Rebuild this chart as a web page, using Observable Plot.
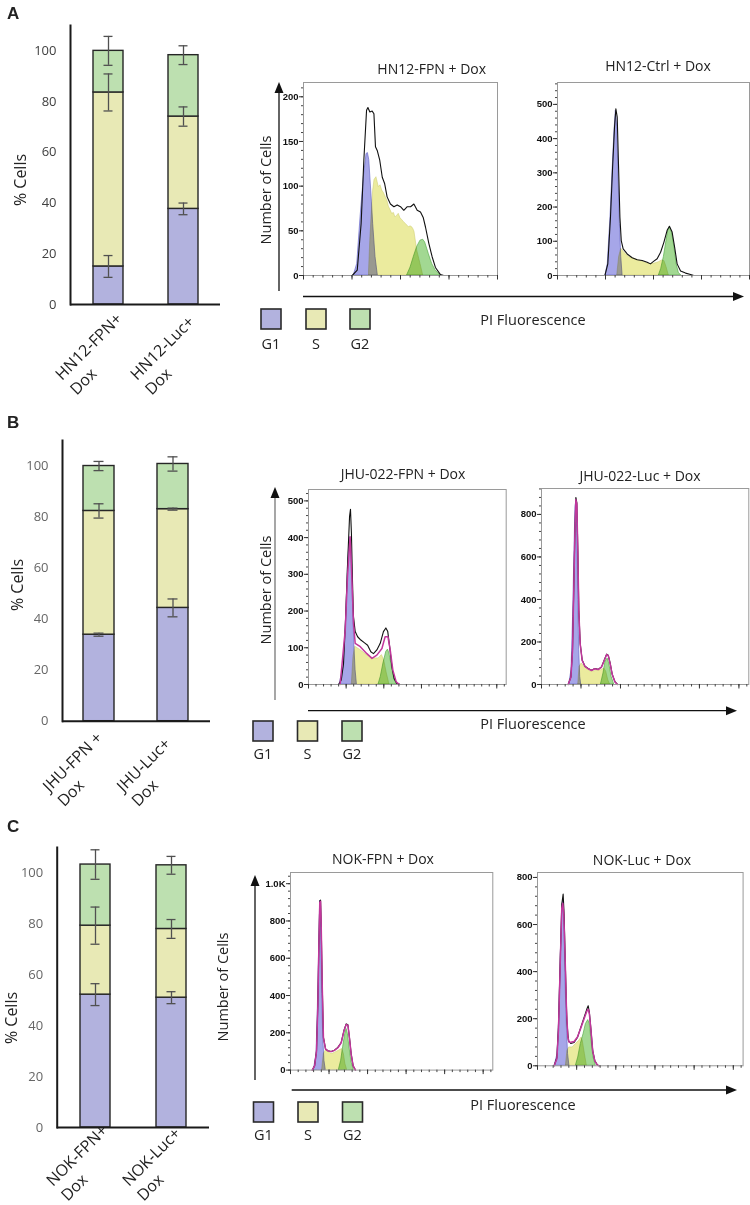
<!DOCTYPE html>
<html>
<head>
<meta charset="utf-8">
<script src="https://cdn.jsdelivr.net/npm/d3@7"></script>
<script src="https://cdn.jsdelivr.net/npm/@observablehq/plot@0.6"></script>
<style>
html,body{margin:0;padding:0;background:#fff;}
#root{position:relative;width:750px;height:1205px;overflow:hidden;background:#fff;}
#root > svg{position:absolute;}
</style>
</head>
<body>
<div id="root"></div>
<script>
// ---------------- DATA ----------------
const phases = ["G1", "S", "G2"];
const barColors = ["#b2b2de", "#e8e9b5", "#bde0b0"];
const histFill = ["#a6a6e8", "#ebeb9e", "#a2d892"];
const histEdge = ["#6c6cc8", "#c9c96a", "#5aae4e"];
const barTicks = [0, 20, 40, 60, 80, 100];

// Panel A bars (% cells per phase)
const catsA = ["HN12-FPN+\nDox", "HN12-Luc+\nDox"];
const g1A = [15.0, 37.7];
const sA = [68.6, 36.4];
const g2A = [16.4, 24.2];
const errG1A = [4.3, 2.3];
const errSA = [7.3, 3.8];
const errG2A = [5.7, 3.7];

// Panel B bars
const catsB = ["JHU-FPN +\nDox", "JHU-Luc+\nDox"];
const g1B = [33.9, 44.4];
const sB = [48.5, 38.7];
const g2B = [17.6, 17.7];
const errG1B = [0.6, 3.5];
const errSB = [2.8, 0.4];
const errG2B = [1.8, 2.8];

// Panel C bars
const catsC = ["NOK-FPN+\nDox", "NOK-Luc+\nDox"];
const g1C = [52.2, 51.0];
const sC = [27.1, 27.0];
const g2C = [24.0, 25.0];
const errG1C = [4.3, 2.35];
const errSC = [7.3, 3.7];
const errG2C = [5.8, 3.5];

// Histograms: [PI channel, number of cells]
const a1Outline = [[251,0],[277,6],[297,58],[311,129],[325,185],[332,188],[342,183],[354,184],[363,181],[371,144],[380,140],[393,129],[406,110],[418,103],[431,88],[448,80],[466,77],[483,79],[500,77],[517,73],[535,77],[552,77],[569,80],[586,73],[603,71],[617,65],[629,54],[646,36],[663,21],[680,9],[706,1],[723,0]];
const a1G1 = [[259,0],[277,13],[294,65],[311,110],[325,136],[332,137],[339,129],[349,95],[359,58],[371,21],[383,0]];
const a1S = [[337,0],[345,43],[359,95],[366,107],[376,110],[388,99],[397,101],[406,95],[415,92],[423,88],[432,84],[440,77],[449,73],[457,69],[466,70],[474,65],[483,67],[491,69],[500,64],[509,62],[517,60],[526,58],[535,56],[543,54],[552,55],[560,54],[566,52],[572,49],[586,28],[603,13],[617,0]];
const a1G2 = [[534,0],[552,9],[569,21],[586,32],[603,39],[617,40],[627,37],[646,24],[663,13],[680,6],[706,0]];

const a2Outline = [[247,0],[262,34],[276,171],[287,317],[297,434],[304,487],[311,463],[318,317],[325,171],[332,102],[342,78],[363,63],[389,52],[415,46],[441,44],[467,39],[484,34],[502,42],[519,49],[537,68],[554,97],[571,132],[583,144],[597,127],[610,83],[623,34],[641,13],[667,7],[693,3],[710,0]];
const a2G1 = [[250,0],[262,34],[276,171],[287,307],[297,424],[304,482],[311,434],[318,288],[325,151],[332,54],[339,0]];
const a2S = [[311,0],[321,54],[332,78],[346,68],[372,54],[398,49],[424,44],[450,39],[476,34],[502,34],[528,39],[545,44],[557,42],[568,24],[580,0]];
const a2G2 = [[528,0],[540,19],[554,54],[568,102],[577,132],[585,141],[597,124],[610,78],[620,34],[632,7],[645,0]];

const b1Outline = [[160,0],[174,12],[186,57],[196,166],[207,321],[218,457],[223,477],[228,411],[234,275],[239,184],[248,144],[261,130],[278,121],[296,114],[314,107],[331,89],[345,84],[363,94],[381,112],[398,144],[411,154],[421,144],[431,103],[443,48],[455,16],[469,3],[487,0]];
const b1Magenta = [[168,0],[195,148],[207,293],[221,402],[230,293],[239,166],[248,112],[275,103],[310,84],[337,71],[363,80],[390,98],[407,130],[422,130],[434,94],[448,39],[466,7],[483,0]];
const b1G1 = [[165,0],[186,48],[200,184],[211,339],[220,401],[229,366],[236,230],[243,112],[250,39],[257,0]];
const b1S = [[230,0],[239,75],[248,103],[275,94],[310,80],[345,71],[372,71],[390,80],[402,66],[416,30],[430,0]];
const b1G2 = [[372,0],[384,21],[398,57],[413,89],[422,95],[430,84],[443,48],[455,16],[469,0]];

const b2Outline = [[135,0],[149,36],[157,162],[164,475],[169,711],[174,880],[179,855],[184,632],[189,350],[196,193],[206,115],[220,86],[236,75],[254,67],[270,75],[287,71],[304,83],[318,115],[330,143],[338,138],[348,99],[358,49],[372,13],[385,0]];
const b2Magenta = [[135,0],[149,34],[157,158],[164,470],[169,705],[174,870],[179,848],[184,625],[189,345],[196,190],[206,113],[220,85],[236,74],[254,66],[270,74],[287,70],[304,82],[318,113],[330,141],[338,136],[348,97],[358,48],[372,12],[385,0]];
const b2G1 = [[140,0],[152,67],[160,318],[167,632],[172,836],[176,860],[181,711],[186,397],[191,162],[196,36],[201,0]];
const b2S = [[186,0],[193,83],[203,99],[225,75],[250,60],[275,63],[301,67],[318,75],[328,60],[338,20],[348,0]];
const b2G2 = [[301,0],[314,52],[324,107],[335,122],[343,99],[355,36],[368,0]];

const c1Outline = [[113,0],[125,23],[135,104],[142,354],[147,658],[152,908],[156,912],[159,800],[165,443],[171,175],[182,113],[194,104],[211,100],[228,107],[246,122],[263,148],[277,211],[289,248],[298,243],[306,175],[315,86],[325,23],[337,0]];
const c1Magenta = [[113,0],[125,22],[135,100],[142,350],[147,650],[152,900],[156,905],[159,795],[165,440],[171,172],[182,112],[194,103],[211,99],[228,106],[246,120],[263,146],[277,208],[289,245],[298,240],[306,172],[315,84],[325,22],[337,0]];
const c1G1 = [[121,0],[135,86],[142,336],[149,658],[154,908],[159,765],[164,407],[170,175],[176,50],[183,0]];
const c1S = [[164,0],[173,86],[182,104],[199,95],[216,86],[234,95],[251,104],[268,113],[277,86],[285,32],[294,0]];
const c1G2 = [[251,0],[263,50],[273,122],[284,193],[291,220],[298,193],[306,122],[317,41],[329,0]];

const c2Outline = [[85,0],[99,35],[107,163],[116,446],[124,686],[131,729],[136,644],[143,403],[150,191],[158,106],[170,95],[187,99],[204,120],[221,163],[238,205],[252,241],[259,255],[265,226],[272,163],[282,64],[293,21],[306,3],[315,0]];
const c2Magenta = [[85,0],[99,30],[107,150],[116,430],[124,670],[129,690],[134,650],[141,460],[148,240],[155,120],[162,100],[170,100],[187,103],[204,122],[221,160],[238,200],[252,232],[259,240],[265,220],[272,160],[282,62],[293,20],[306,3],[315,0]];
const c2G1 = [[88,0],[102,50],[110,191],[119,474],[128,686],[133,701],[138,573],[143,361],[150,163],[156,50],[163,0]];
const c2S = [[145,0],[153,64],[162,78],[179,78],[196,92],[213,106],[225,120],[231,106],[242,50],[252,0]];
const c2G2 = [[196,0],[208,35],[221,92],[235,134],[247,177],[259,194],[267,177],[276,106],[286,35],[298,0]];

// ---------------- DRAWING ----------------
const root = document.getElementById("root");
const FONT = "'Open Sans', 'Noto Sans', sans-serif";

function barChart(o) {
  const rows = [], errs = [];
  o.cats.forEach((c, i) => {
    const vals = [o.g1[i], o.s[i], o.g2[i]];
    const es = [o.e1[i], o.eS[i], o.eG2[i]];
    let cum = 0;
    vals.forEach((v, k) => {
      rows.push({cat: c, phase: phases[k], v});
      cum += v;
      errs.push({cat: c, top: cum, e: es[k]});
    });
  });
  const f = o.frame, mt = 20, mb = 100, mr = 4;
  const svg = Plot.plot({
    width: f.r + mr, height: f.b - f.t + mt + mb,
    marginLeft: f.l, marginRight: mr, marginTop: mt, marginBottom: mb,
    style: {background: "none", fontFamily: FONT, overflow: "visible"},
    x: {domain: o.cats, paddingInner: o.pi, paddingOuter: o.po, axis: null},
    y: {domain: [0, 110], axis: null},
    color: {domain: phases, range: barColors},
    marks: [
      Plot.barY(rows, {x: "cat", y: "v", fill: "phase", stroke: "#262626", strokeWidth: 1.4}),
      Plot.ruleX(errs, {x: "cat", y1: d => d.top - d.e, y2: d => d.top + d.e, stroke: "#505050", strokeWidth: 1.3}),
      Plot.tickY(errs, {x: "cat", y: d => d.top - d.e, stroke: "#505050", strokeWidth: 1.3, insetLeft: 10.5, insetRight: 10.5}),
      Plot.tickY(errs, {x: "cat", y: d => d.top + d.e, stroke: "#505050", strokeWidth: 1.3, insetLeft: 10.5, insetRight: 10.5}),
      Plot.ruleY([0], {stroke: "#1a1a1a", strokeWidth: 2}),
      Plot.frame({anchor: "left", stroke: "#1a1a1a", strokeWidth: 2}),
      Plot.axisY({ticks: barTicks, tickSize: 0, tickPadding: 14, fontSize: 13, color: o.tickColor, label: null}),
      Plot.text(o.cats, {x: d => d, text: d => d, frameAnchor: "bottom", rotate: -45, textAnchor: "start",
        lineAnchor: "top", lineHeight: 1.3, fontSize: 16, dx: o.ldx, dy: o.ldy, fill: "#222"})
    ]
  });
  svg.style.left = "0px";
  svg.style.top = (f.t - mt) + "px";
  root.appendChild(svg);
}

function histogram(o) {
  const ml = 35, mr = 10, mt = 5, mb = 15;
  const b = o.box;
  const acc = {x: d => d[0], y1: 0, y2: d => d[1]};
  const lacc = {x: d => d[0], y: d => d[1]};
  const marks = [
    Plot.areaY(o.g1, {...acc, fill: histFill[0], stroke: histEdge[0], strokeWidth: 0.7, mixBlendMode: "multiply"}),
    Plot.areaY(o.s, {...acc, fill: histFill[1], stroke: histEdge[1], strokeWidth: 0.5, mixBlendMode: "multiply"}),
    Plot.areaY(o.g2, {...acc, fill: histFill[2], stroke: histEdge[2], strokeWidth: 0.7, mixBlendMode: "multiply"}),
    Plot.lineY(o.outline, {...lacc, stroke: "#111", strokeWidth: 1.1})
  ];
  if (o.magenta) marks.push(Plot.lineY(o.magenta, {...lacc, stroke: "#c2379c", strokeWidth: 1.5}));
  marks.push(
    Plot.frame({stroke: "#9a9a9a", strokeWidth: 1}),
    Plot.axisY({ticks: o.yMinor, tickSize: 2, tickFormat: () => "", label: null, stroke: "#444"}),
    Plot.axisY({ticks: o.yMajor, tickSize: 4, tickPadding: 1, fontSize: 9.5, fontWeight: "bold",
      tickFormat: o.fmt || (d => d), label: null, stroke: "#333", fill: "#111"}),
    Plot.axisX({ticks: o.xMinor, tickSize: 2.5, tickFormat: () => "", label: null, stroke: "#444"}),
    Plot.axisX({ticks: o.xMajor, tickSize: 4.5, tickFormat: () => "", label: null, stroke: "#333"})
  );
  const svg = Plot.plot({
    width: b.r - b.l + ml + mr, height: b.b - b.t + mt + mb,
    marginLeft: ml, marginRight: mr, marginTop: mt, marginBottom: mb,
    style: {background: "none", fontFamily: "'Liberation Sans', Arial, sans-serif", overflow: "visible"},
    x: {domain: o.xDomain, axis: null},
    y: {domain: o.yDomain, axis: null},
    marks
  });
  svg.style.left = (b.l - ml) + "px";
  svg.style.top = (b.t - mt) + "px";
  root.appendChild(svg);
}

// tick helpers (axis layout only)
const xTicksA = {xDomain: [0, 1000], xMajor: d3.range(0, 1001, 250), xMinor: d3.range(0, 1001, 50)};
const xTicksBC = {xDomain: [0, 1050], xMajor: d3.range(0, 1051, 200), xMinor: d3.range(0, 1051, 40)};

// Bars
barChart({cats: catsA, g1: g1A, s: sA, g2: g2A, e1: errG1A, eS: errSA, eG2: errG2A,
  frame: {l: 70, r: 220, t: 25, b: 304}, pi: 0.6, po: 0.3, tickColor: "#404040", ldx: -57, ldy: 66});
barChart({cats: catsB, g1: g1B, s: sB, g2: g2B, e1: errG1B, eS: errSB, eG2: errG2B,
  frame: {l: 62, r: 210, t: 440, b: 720.7}, pi: 0.58, po: 0.29, tickColor: "#666", ldx: -60, ldy: 61});
barChart({cats: catsC, g1: g1C, s: sC, g2: g2C, e1: errG1C, eS: errSC, eG2: errG2C,
  frame: {l: 56.7, r: 209, t: 846.7, b: 1126.7}, pi: 0.6, po: 0.295, tickColor: "#666", ldx: -53, ldy: 49});

// Histograms
histogram({box: {l: 303, r: 497, t: 82, b: 275}, ...xTicksA, yDomain: [0, 216],
  yMajor: d3.range(0, 201, 50), yMinor: d3.range(0, 211, 10),
  outline: a1Outline, g1: a1G1, s: a1S, g2: a1G2});
histogram({box: {l: 557, r: 749, t: 82, b: 275}, ...xTicksA, yDomain: [0, 564],
  yMajor: d3.range(0, 501, 100), yMinor: d3.range(0, 561, 20),
  outline: a2Outline, g1: a2G1, s: a2S, g2: a2G2});
histogram({box: {l: 308.3, r: 506, t: 489.3, b: 684.3}, ...xTicksBC, yDomain: [0, 531],
  yMajor: d3.range(0, 501, 100), yMinor: d3.range(0, 521, 20),
  outline: b1Outline, magenta: b1Magenta, g1: b1G1, s: b1S, g2: b1G2});
histogram({box: {l: 540.7, r: 748, t: 488.3, b: 684.3}, ...xTicksBC, yDomain: [0, 922],
  yMajor: d3.range(0, 801, 200), yMinor: d3.range(0, 921, 40),
  outline: b2Outline, magenta: b2Magenta, g1: b2G1, s: b2S, g2: b2G2});
histogram({box: {l: 290, r: 492.3, t: 871.7, b: 1069.3}, ...xTicksBC, yDomain: [0, 1060],
  yMajor: d3.range(0, 1001, 200), yMinor: d3.range(0, 1041, 40), fmt: d => d === 1000 ? "1.0K" : d,
  outline: c1Outline, magenta: c1Magenta, g1: c1G1, s: c1S, g2: c1G2});
histogram({box: {l: 536.7, r: 742.3, t: 871.7, b: 1065}, ...xTicksBC, yDomain: [0, 821],
  yMajor: d3.range(0, 801, 200), yMinor: d3.range(0, 801, 40),
  outline: c2Outline, magenta: c2Magenta, g1: c2G1, s: c2S, g2: c2G2});

// ---------------- Annotations (text, arrows, legend) ----------------
function T(x, y, s, size, extra = "") {
  return `<text x="${x}" y="${y}" font-size="${size}" text-anchor="middle" dominant-baseline="central" ${extra}>${s}</text>`;
}
function R(x, y, s, size) {
  return `<text transform="translate(${x},${y}) rotate(-90)" font-size="${size}" text-anchor="middle" dominant-baseline="central">${s}</text>`;
}
function vArrow(x, tip, bottom, col) {
  return `<line x1="${x}" y1="${bottom}" x2="${x}" y2="${tip + 8}" stroke="${col}" stroke-width="1.3"/>` +
    `<path d="M${x},${tip} L${x - 4.5},${tip + 11} L${x + 4.5},${tip + 11} Z" fill="#111"/>`;
}
function hArrow(y, left, tip) {
  return `<line x1="${left}" y1="${y}" x2="${tip - 8}" y2="${y}" stroke="#111" stroke-width="1.3"/>` +
    `<path d="M${tip},${y} L${tip - 11},${y - 4.5} L${tip - 11},${y + 4.5} Z" fill="#111"/>`;
}
function legend(y, xs, ly) {
  let s = "";
  phases.forEach((p, k) => {
    s += `<rect x="${xs[k]}" y="${y}" width="20" height="20" fill="${barColors[k]}" stroke="#2a2a2a" stroke-width="1.6"/>`;
    s += T(xs[k] + 10, ly, p, 14.5);
  });
  return s;
}
let ov = `<svg width="750" height="1205" style="left:0;top:0;pointer-events:none" font-family="${FONT}" fill="#222">`;
// panel letters
ov += `<text x="7" y="19" font-size="17" font-weight="bold" font-family="'Liberation Sans', Arial, sans-serif">A</text>`;
ov += `<text x="7" y="428" font-size="17" font-weight="bold" font-family="'Liberation Sans', Arial, sans-serif">B</text>`;
ov += `<text x="7" y="832" font-size="17" font-weight="bold" font-family="'Liberation Sans', Arial, sans-serif">C</text>`;
// bar y labels
ov += R(20, 180, "% Cells", 16) + R(17, 585, "% Cells", 16) + R(11, 1018, "% Cells", 16);
// histogram titles
ov += T(431.7, 68, "HN12-FPN + Dox", 14) + T(658, 65, "HN12-Ctrl + Dox", 14);
ov += T(403, 473, "JHU-022-FPN + Dox", 14) + T(640, 475, "JHU-022-Luc + Dox", 14);
ov += T(383, 858, "NOK-FPN + Dox", 14) + T(642, 859, "NOK-Luc + Dox", 14);
// Number of cells
ov += R(265, 190, "Number of Cells", 14.5) + R(265, 590, "Number of Cells", 14.5) + R(222, 987, "Number of Cells", 14.5);
// arrows
ov += vArrow(279, 82, 291, "#111") + hArrow(296.5, 303, 744);
ov += vArrow(275, 487, 700, "#777") + hArrow(710.7, 308, 737);
ov += vArrow(255, 875, 1080, "#111") + hArrow(1090, 291.7, 737);
// PI Fluorescence
ov += T(533, 319, "PI Fluorescence", 14.5) + T(533, 723, "PI Fluorescence", 14.5) + T(523, 1104, "PI Fluorescence", 14.5);
// legends
ov += legend(309, [261, 306, 350], 343);
ov += legend(721, [253, 297.5, 342], 753);
ov += legend(1102, [253.5, 298, 342.5], 1134);
ov += `</svg>`;
root.insertAdjacentHTML("beforeend", ov);
</script>
</body>
</html>
